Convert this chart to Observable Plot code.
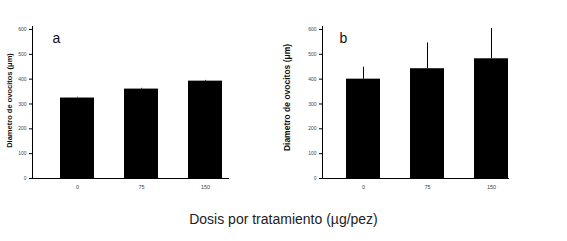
<!DOCTYPE html>
<html>
<head>
<meta charset="utf-8">
<script src="https://cdn.jsdelivr.net/npm/d3@7"></script>
<script src="https://cdn.jsdelivr.net/npm/@observablehq/plot@0.6"></script>
<style>
  html, body { margin: 0; padding: 0; background: #fff; }
  #wrap { position: relative; width: 567px; height: 241px; overflow: hidden; font-family: "Liberation Sans", Arial, sans-serif; }
  .panel { position: absolute; top: 0; }
  #caption { position: absolute; left: 0; width: 567px; top: 211px; text-align: center; font-size: 14px; color: #222; font-family: "Liberation Sans", Arial, sans-serif; }
</style>
</head>
<body>
<div id="wrap">
  <div id="pa" class="panel" style="left:0px"></div>
  <div id="pb" class="panel" style="left:280px"></div>
  <div id="caption"></div>
</div>
<script>
const doses = ["0", "75", "150"];
const meanA = [324, 360, 392];
const errA = [3, 3, 3];
const meanB = [400, 442, 482];
const errB = [48, 104, 122];
const panelLabels = ["a", "b"];
const yTicks = [0, 100, 200, 300, 400, 500, 600];
const yTitle = "Diametro de ovocitos (μm)";
const xTitle = "Dosis por tratamiento (µg/pez)";

function panel(means, errs, letter, opts) {
  const data = doses.map((d, i) => ({dose: d, mean: means[i], top: means[i] + errs[i]}));
  return Plot.plot({
    width: 240,
    height: 200,
    marginLeft: opts.ml,
    marginRight: 11,
    marginTop: 26,
    marginBottom: 22,
    style: {fontFamily: "Liberation Sans, Arial, sans-serif", background: "transparent"},
    x: {type: "band", domain: doses, range: opts.xr, paddingInner: 0.47, paddingOuter: 0, label: null},
    y: {domain: [0, 612], label: null},
    marks: [
      Plot.ruleX(data, {x: "dose", y1: "mean", y2: "top", stroke: "black", strokeWidth: 1}),
      Plot.ruleY(data, {x: "dose", y: "top", stroke: "black", strokeWidth: 1, insetLeft: 15, insetRight: 15}),
      Plot.barY(data, {x: "dose", y: "mean", fill: "black"}),
      Plot.frame({anchor: "left", stroke: "black"}),
      Plot.ruleY([0], {stroke: "black"}),
      Plot.axisY({ticks: yTicks, tickSize: 3, tickPadding: 3, fontSize: 5, color: "#444", stroke: "black", label: null}),
      Plot.axisX({tickSize: 0, tickPadding: 7, fontSize: 5.5, color: "#444", label: null}),
      Plot.text([yTitle], {frameAnchor: "left", textAnchor: "middle", rotate: -90, dx: opts.tdx, dy: opts.tdy, fontSize: opts.tfs, fontWeight: "bold", fill: "#111"}),
      Plot.text([letter], {frameAnchor: "top-left", dx: opts.ldx, dy: 7, fontSize: 14, fill: "#111"})
    ]
  });
}

document.getElementById("pa").appendChild(panel(meanA, errA, panelLabels[0], {ml: 32, xr: [59, 222], tdx: -23, tdy: -2, tfs: 7.5, ldx: 20}));
document.getElementById("pb").appendChild(panel(meanB, errB, panelLabels[1], {ml: 42, xr: [66, 228], tdx: -35, tdy: -5, tfs: 8.5, ldx: 17}));
document.getElementById("caption").textContent = xTitle;
</script>
</body>
</html>
